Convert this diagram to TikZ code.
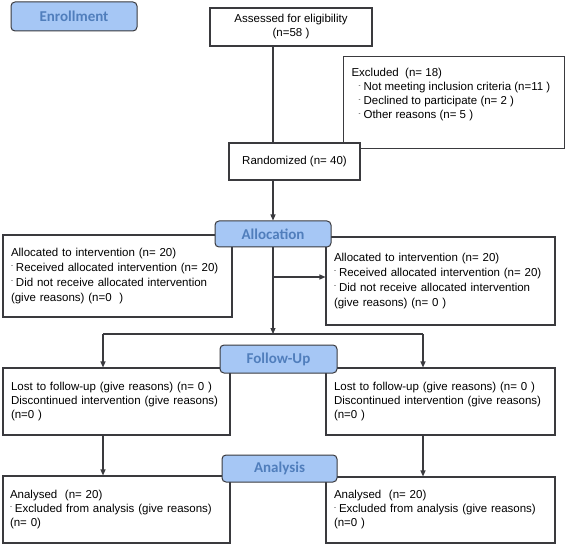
\documentclass[tikz,border=0pt]{standalone}
\usepackage{fontspec}
\setmainfont{Liberation Sans}
\newfontfamily\headfont{Carlito}
\usepackage{xcolor}
\usetikzlibrary{arrows.meta}

\definecolor{headfill}{RGB}{166,199,245}
\definecolor{headtext}{RGB}{80,126,188}
\definecolor{edgegray}{RGB}{58,58,62}
\newcommand{\bul}{\raisebox{0.6ex}{\fontsize{6}{6}\selectfont -}\hspace{3pt}}

\begin{document}
\begin{tikzpicture}[x=1pt, y=-1pt,
		box/.style={draw=edgegray, line width=1.1pt, fill=white, inner xsep=8pt, inner ysep=4pt,
			font=\fontsize{11.5}{14}\selectfont},
		leftbox/.style={box, align=left},
		stage/.style={draw=edgegray, line width=1pt, fill=headfill, rounded corners=4pt, text=headtext,
			font=\headfont\bfseries\fontsize{15}{15}\selectfont, inner sep=0pt},
		line/.style={draw=edgegray, line width=1.1pt},
		arr/.style={line, -{Triangle[length=6pt, width=5pt]}}]
	\useasboundingbox (0,0) rectangle (567,545);
	% enrollment
	\node[stage, minimum width=126pt, minimum height=29pt] (enrol) at (74,16.5) {Enrollment};
	\node[box, align=center, minimum width=162pt, minimum height=38pt] (assess) at (291,27) {Assessed for eligibility\\(n=58 )};
	\node[box, anchor=north west, inner xsep=8pt, inner ysep=12pt] (excl) at (343,56) {\parbox[t][68pt][t]{205pt}{\raggedright
			Excluded\ \ (n= 18)\\
			\hspace*{7pt}\bul Not meeting inclusion criteria (n=11 )\\
			\hspace*{7pt}\bul Declined to participate (n= 2 )\\
			\hspace*{7pt}\bul Other reasons (n= 5 )}};
	\node[box, align=center, minimum width=131pt, minimum height=37pt] (rand) at (294.5,161.5) {Randomized (n= 40)};
	% allocation
	\node[leftbox, text width=213pt, minimum height=82pt, font=\fontsize{11.5}{15}\selectfont] (lalloc) at (117.5,276) {Allocated to intervention (n= 20)\\
		\bul Received allocated intervention (n= 20)\\
		\bul Did not receive allocated intervention\\
		(give reasons) (n=0\ \ )};
	\node[leftbox, text width=213pt, minimum height=88pt, font=\fontsize{11.5}{15}\selectfont] (ralloc) at (440.5,281) {Allocated to intervention (n= 20)\\
		\bul Received allocated intervention (n= 20)\\
		\bul Did not receive allocated intervention\\
		(give reasons) (n= 0 )\\[6pt]};
	\node[stage, minimum width=116pt, minimum height=26pt] (alloc) at (273,234) {Allocation};
	% follow-up
	\node[leftbox, text width=211pt, minimum height=67pt] (lfu) at (116.5,401.5) {Lost to follow-up (give reasons) (n= 0 )\\
		Discontinued intervention (give reasons)\\
		(n=0 )};
	\node[leftbox, text width=213pt, minimum height=67pt] (rfu) at (440.5,401.5) {Lost to follow-up (give reasons) (n= 0 )\\
		Discontinued intervention (give reasons)\\
		(n=0 )};
	\node[stage, minimum width=117pt, minimum height=28pt] (follow) at (278.5,359) {Follow-Up};
	% analysis
	\node[leftbox, text width=213pt, minimum height=67pt, inner xsep=7pt] (lan) at (116.5,509.5) {Analysed\ \ (n= 20)\\
		\bul Excluded from analysis (give reasons)\\
		(n= 0)};
	\node[leftbox, text width=213pt, minimum height=66pt] (ran) at (440.5,510) {Analysed\ \ (n= 20)\\
		\bul Excluded from analysis (give reasons)\\
		(n=0 )};
	\node[stage, minimum width=115pt, minimum height=27pt] (analysis) at (279.5,468.5) {Analysis};

	% connectors
	\coordinate (branch) at (273,277);
	\coordinate (split) at (273,334);
	\coordinate (fl) at (103,334);
	\coordinate (fr) at (423,334);
	\draw[line] (assess.south -| alloc.north) -- (rand.north -| alloc.north);
	\draw[arr] (rand.south -| alloc.north) -- (alloc.north);
	\draw[arr] (alloc.south) -- (split);
	\draw[arr] (branch) -- (branch -| ralloc.west);
	\draw[line] (fl) -- (fr);
	\draw[arr] (fl) -- (fl |- lfu.north);
	\draw[arr] (fr) -- (fr |- rfu.north);
	\draw[arr] (fl |- lfu.south) -- (fl |- lan.north);
	\draw[arr] (fr |- rfu.south) -- (fr |- ran.north);
\end{tikzpicture}
\end{document}
